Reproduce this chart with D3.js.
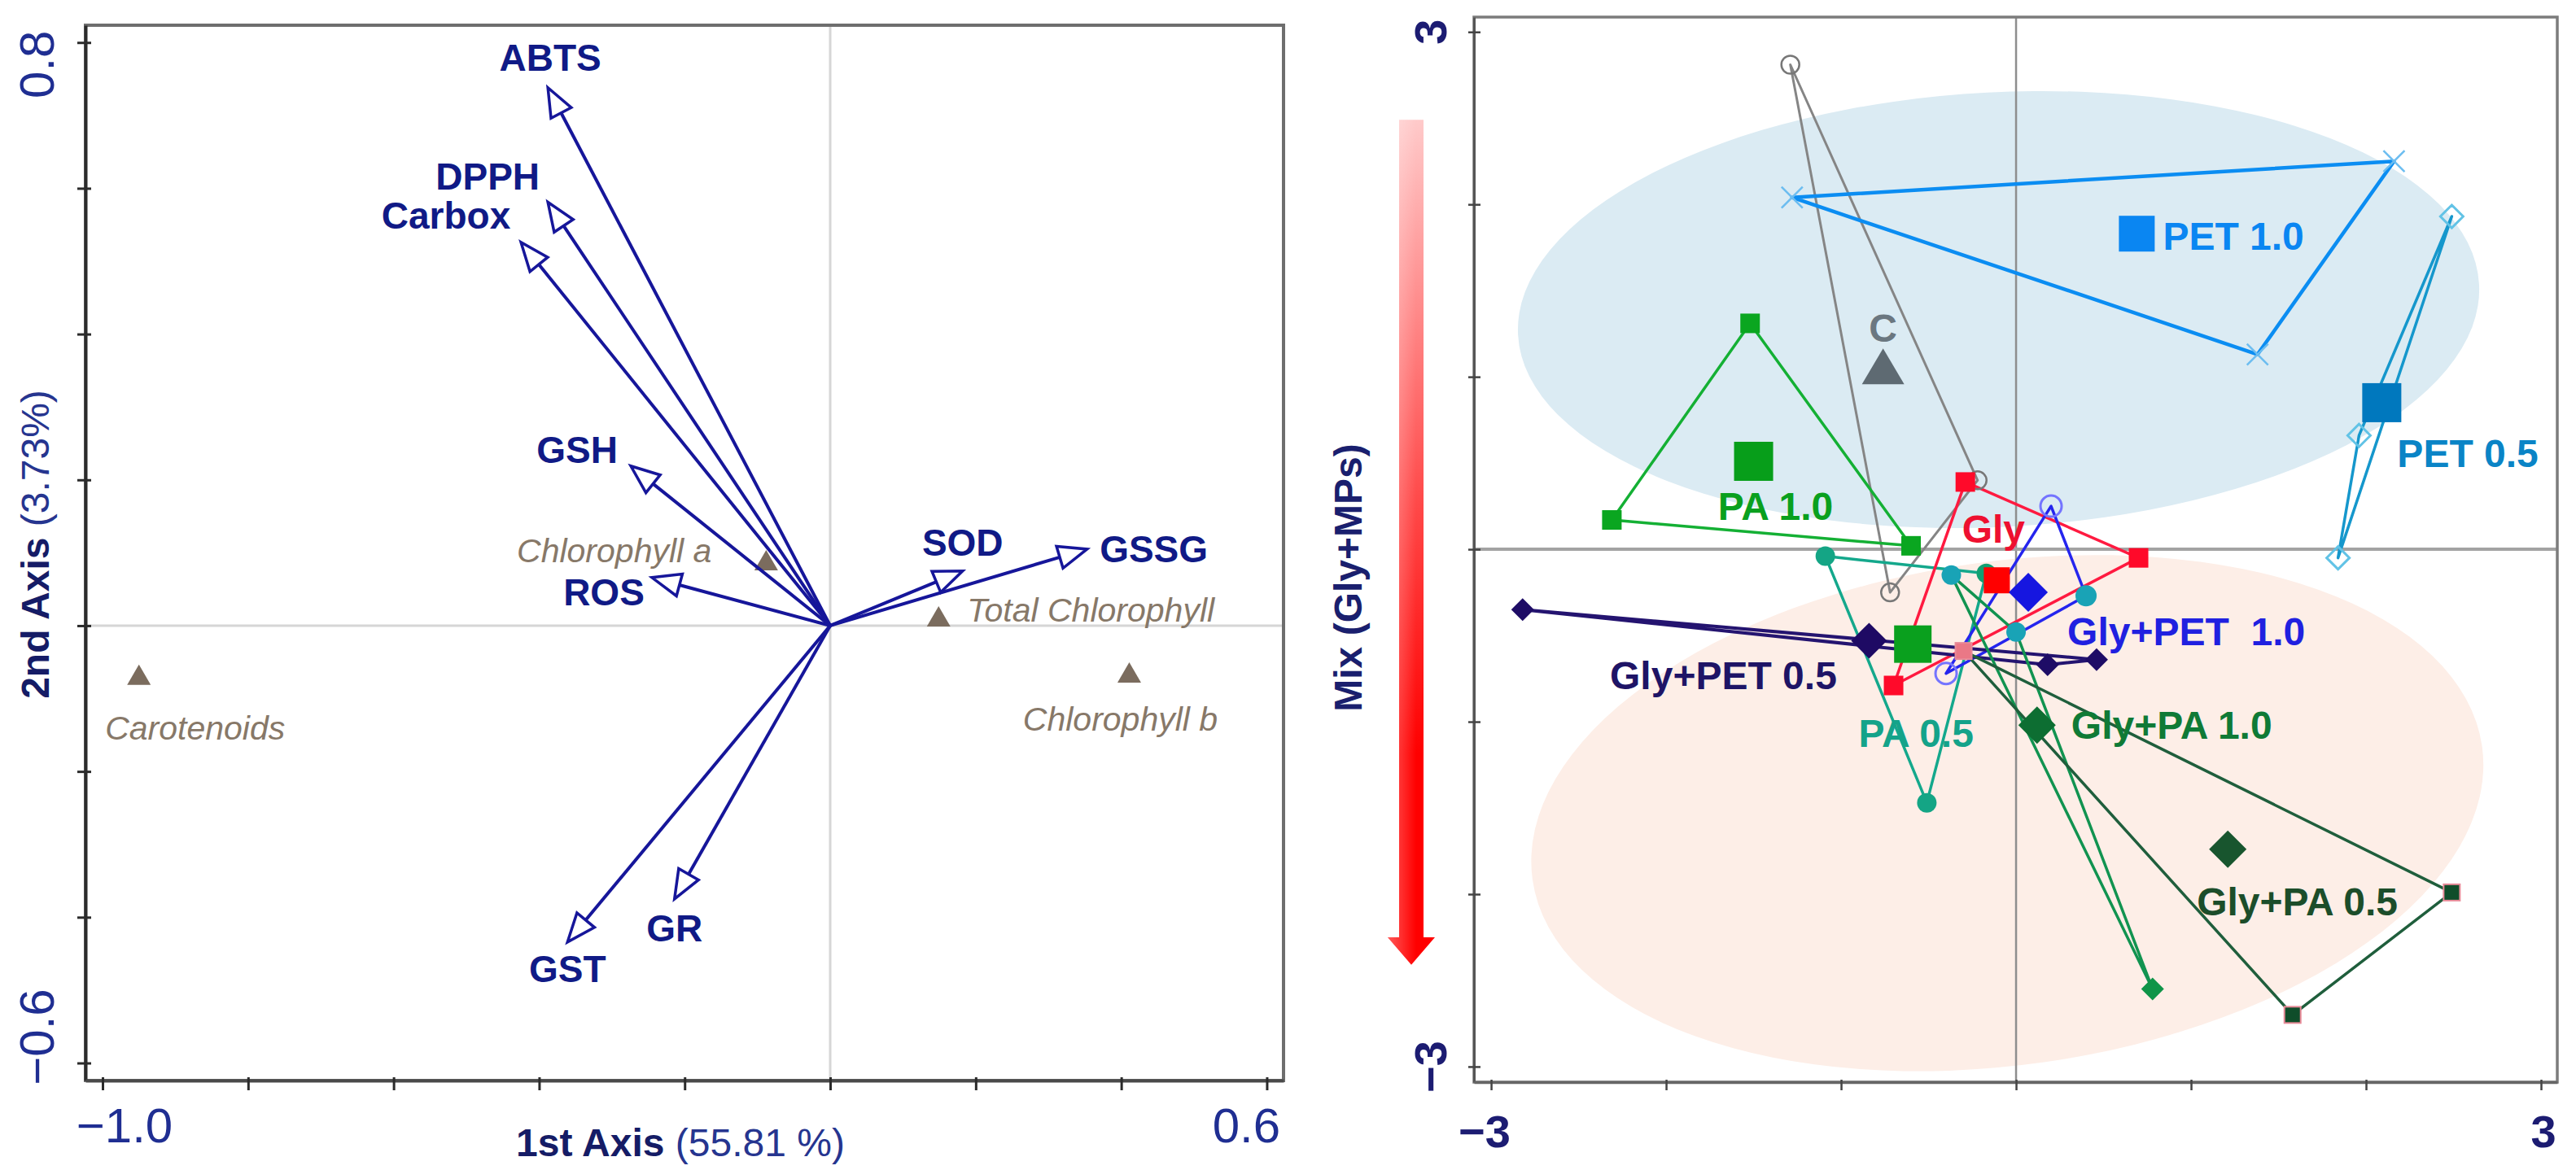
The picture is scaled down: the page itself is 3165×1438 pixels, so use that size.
<!DOCTYPE html>
<html lang="en">
<head>
<meta charset="UTF-8">
<title>PCA biplot and treatment scores</title>
<script src="https://cdn.jsdelivr.net/npm/d3@7"></script>
<style>
  body { margin: 0; background: #fff; }
  svg { display: block; }
  text { font-family: "Liberation Sans", Arial, sans-serif; }
</style>
</head>
<body>
<svg></svg>
<script>
// ---------- left panel: variable loadings ----------
const varNames = ["ABTS", "DPPH", "Carbox", "GSH", "ROS", "SOD", "GSSG", "GST", "GR"];
const varX = [-0.388, -0.388, -0.425, -0.274, -0.245, 0.182, 0.353, -0.361, -0.214];
const varY = [0.738, 0.581, 0.526, 0.219, 0.066, 0.075, 0.105, -0.434, -0.375];

const pigNames = ["Carotenoids", "Chlorophyll a", "Total Chlorophyll", "Chlorophyll b"];
const pigX = [-0.950, -0.088, 0.149, 0.411];
const pigY = [-0.070, 0.087, 0.010, -0.067];

const leftXTicks = [-1.0, -0.8, -0.6, -0.4, -0.2, 0, 0.2, 0.4, 0.6];
const leftYTicks = [-0.6, -0.4, -0.2, 0, 0.2, 0.4, 0.6, 0.8];
const leftXLabels = ["\u22121.0", "0.6"];
const leftYLabels = ["0.8", "\u22120.6"];

// ---------- right panel: treatment scores ----------
const groups = ["C", "PET 1.0", "PET 0.5", "PA 1.0", "PA 0.5", "Gly",
                "Gly+PET  1.0", "Gly+PET 0.5", "Gly+PA 1.0", "Gly+PA 0.5"];
const pointsX = [
  [-1.29, -0.22, -0.72],
  [-1.28, 2.16, 1.38],
  [2.49, 1.96, 1.84],
  [-1.52, -2.31, -0.60],
  [-1.09, -0.51, -0.17],
  [-0.29, 0.70, -0.70],
  [0.20, -0.40, 0.40],
  [-2.82, 0.18, 0.46],
  [-0.37, 0.00, 0.78],
  [-0.30, 2.49, 1.58]
];
const pointsY = [
  [2.81, 0.40, -0.25],
  [2.04, 2.25, 1.13],
  [1.93, 0.66, -0.05],
  [1.31, 0.17, 0.02],
  [-0.04, -1.47, -0.14],
  [0.39, -0.05, -0.79],
  [0.25, -0.72, -0.27],
  [-0.35, -0.67, -0.64],
  [-0.15, -0.48, -2.55],
  [-0.59, -1.99, -2.70]
];
const centX = [-0.76, 0.69, 2.09, -1.50, -0.59, -0.11, 0.07, -0.84, 0.12, 1.21];
const centY = [1.04, 1.83, 0.85, 0.51, -0.55, -0.18, -0.25, -0.53, -1.02, -1.74];

const rightTicks = [-3, -2, -1, 0, 1, 2, 3];
const rightLabels = ["\u22123", "3"];

// group ellipses (centre, semi-axes in data units, tilt in degrees)
const ellCX = [-0.10, -0.05];
const ellCY = [1.39, -1.53];
const ellRX = [2.75, 2.74];
const ellRY = [1.26, 1.46];
const ellTilt = [-3, -8];

// ---------- styles / layout ----------
const W = 3165, H = 1438;
const navy = "#101a86";

const svg = d3.select("svg").attr("width", W).attr("height", H);

const defs = svg.append("defs");
const grad = defs.append("linearGradient").attr("id", "redArrow")
  .attr("x1", 0).attr("y1", 0).attr("x2", 0).attr("y2", 1);
grad.append("stop").attr("offset", "0%").attr("stop-color", "#ffcaca");
grad.append("stop").attr("offset", "45%").attr("stop-color", "#ff4a4a");
grad.append("stop").attr("offset", "75%").attr("stop-color", "#ff0000");
grad.append("stop").attr("offset", "100%").attr("stop-color", "#ff0000");
const shade = defs.append("linearGradient").attr("id", "redShade")
  .attr("x1", 0).attr("y1", 0).attr("x2", 1).attr("y2", 0);
shade.append("stop").attr("offset", "0%").attr("stop-color", "#fff").attr("stop-opacity", 0.35);
shade.append("stop").attr("offset", "60%").attr("stop-color", "#fff").attr("stop-opacity", 0);

// ===== LEFT PANEL =====
const lx = d3.scaleLinear().domain([-1.0235, 0.623]).range([105, 1577]);
const ly = d3.scaleLinear().domain([-0.624, 0.8237]).range([1328, 31]);
const L = svg.append("g");

// zero lines
L.append("line").attr("x1", lx(0)).attr("x2", lx(0)).attr("y1", ly.range()[1]).attr("y2", ly.range()[0])
  .attr("stroke", "#d6d6d6").attr("stroke-width", 3);
L.append("line").attr("x1", lx.range()[0]).attr("x2", lx.range()[1]).attr("y1", ly(0)).attr("y2", ly(0))
  .attr("stroke", "#d6d6d6").attr("stroke-width", 3);

// frame
L.append("rect").attr("x", lx.range()[0]).attr("y", ly.range()[1])
  .attr("width", lx.range()[1] - lx.range()[0]).attr("height", ly.range()[0] - ly.range()[1])
  .attr("fill", "none").attr("stroke", "#6e6e6e").attr("stroke-width", 4);

// axes
const lAxY = L.append("g").attr("transform", `translate(${lx.range()[0]},0)`)
  .call(d3.axisLeft(ly).tickValues(leftYTicks).tickFormat("").tickSizeOuter(0));
lAxY.select(".domain").attr("stroke", "#2b2b2b").attr("stroke-width", 4);
lAxY.selectAll(".tick line").attr("x1", 7).attr("x2", -10).attr("stroke", "#2b2b2b").attr("stroke-width", 3);

const lAxX = L.append("g").attr("transform", `translate(0,${ly.range()[0]})`)
  .call(d3.axisBottom(lx).tickValues(leftXTicks).tickFormat("").tickSizeOuter(0));
lAxX.select(".domain").attr("stroke", "#4a4a4a").attr("stroke-width", 4);
lAxX.selectAll(".tick line").attr("y1", -4).attr("y2", 12).attr("stroke", "#2b2b2b").attr("stroke-width", 3);

// tick labels (only ends are labelled)
L.append("text").attr("x", lx(-1.0) + 27).attr("y", ly.range()[0] + 55).attr("dy", "0.35em")
  .attr("text-anchor", "middle").attr("font-size", 60).attr("fill", "#1f2e92").text(leftXLabels[0]);
L.append("text").attr("x", lx(0.6) - 25).attr("y", ly.range()[0] + 55).attr("dy", "0.35em")
  .attr("text-anchor", "middle").attr("font-size", 60).attr("fill", "#1f2e92").text(leftXLabels[1]);
L.append("text").attr("transform", `translate(45,${ly(0.8) + 27}) rotate(-90)`).attr("dy", "0.35em")
  .attr("text-anchor", "middle").attr("font-size", 60).attr("fill", "#1f2e92").text(leftYLabels[0]);
L.append("text").attr("transform", `translate(45,${ly(-0.6) - 32}) rotate(-90)`).attr("dy", "0.35em")
  .attr("text-anchor", "middle").attr("font-size", 60).attr("fill", "#1f2e92").text(leftYLabels[1]);

// axis titles
const tY = L.append("text").attr("transform", "translate(43,669) rotate(-90)").attr("dy", "0.35em")
  .attr("text-anchor", "middle").attr("font-size", 48);
tY.append("tspan").attr("font-weight", "bold").attr("fill", "#151c66").text("2nd Axis");
tY.append("tspan").attr("fill", "#26358f").text(" (3.73%)");
const tX = L.append("text").attr("x", 836).attr("y", 1404).attr("dy", "0.35em")
  .attr("text-anchor", "middle").attr("font-size", 48);
tX.append("tspan").attr("font-weight", "bold").attr("fill", "#151c66").text("1st Axis");
tX.append("tspan").attr("fill", "#26358f").text(" (55.81 %)");

// pigments (supplementary, triangles)
const pigLabel = {
  "Carotenoids": [69, 63, "middle"],
  "Chlorophyll a": [-67, -14, "end"],
  "Total Chlorophyll": [35, -10, "start"],
  "Chlorophyll b": [-11, 55, "middle"]
};
pigNames.forEach((name, i) => {
  const cx = lx(pigX[i]), cy = ly(pigY[i]);
  const w = 29, h = 25;
  L.append("path").attr("d", `M${cx},${cy - h * 0.6}L${cx + w / 2},${cy + h * 0.4}L${cx - w / 2},${cy + h * 0.4}Z`)
    .attr("fill", "#7b6c5e");
  const o = pigLabel[name];
  L.append("text").attr("x", cx + o[0]).attr("y", cy + o[1]).attr("dy", "0.35em")
    .attr("text-anchor", o[2]).attr("font-family", "'Open Sans', sans-serif").attr("font-style", "italic")
    .attr("font-size", 41).attr("fill", "#877868").text(name);
});

// loading arrows with open heads
const varLabel = {
  ABTS: [3, -37], DPPH: [-74, -32], Carbox: [-92, -33], GSH: [-66, -20], ROS: [-59, 18],
  SOD: [0, -35], GSSG: [82, 0], GST: [0, 33], GR: [0, 36]
};
const ox = lx(0), oy = ly(0);
varNames.forEach((name, i) => {
  const tx = lx(varX[i]), ty = ly(varY[i]);
  const len = Math.hypot(tx - ox, ty - oy);
  const ux = (tx - ox) / len, uy = (ty - oy) / len;
  const hl = 35, hw = 14;
  const bx = tx - ux * hl, by = ty - uy * hl;
  L.append("line").attr("x1", ox).attr("y1", oy).attr("x2", bx).attr("y2", by)
    .attr("stroke", "#16169a").attr("stroke-width", 4);
  L.append("path")
    .attr("d", `M${tx},${ty}L${bx - uy * hw},${by + ux * hw}L${bx + uy * hw},${by - ux * hw}Z`)
    .attr("fill", "#fff").attr("stroke", "#16169a").attr("stroke-width", 3.5).attr("stroke-linejoin", "miter");
  const o = varLabel[name];
  L.append("text").attr("x", tx + o[0]).attr("y", ty + o[1]).attr("dy", "0.35em")
    .attr("text-anchor", "middle").attr("font-weight", "bold").attr("font-size", 46)
    .attr("fill", navy).text(name);
});

// ===== RIGHT PANEL =====
const rx = d3.scaleLinear().domain([-3.098, 3.093]).range([1811, 3142]);
const ry = d3.scaleLinear().domain([-3.09, 3.086]).range([1330, 21]);
const R = svg.append("g");

// ellipses
const ellFill = ["#dbebf3", "#fdeee7"];
ellCX.forEach((c, i) => {
  const cx = rx(c), cy = ry(ellCY[i]);
  R.append("ellipse").attr("cx", 0).attr("cy", 0)
    .attr("rx", rx(c + ellRX[i]) - cx).attr("ry", cy - ry(ellCY[i] + ellRY[i]))
    .attr("transform", `translate(${cx},${cy}) rotate(${ellTilt[i]})`)
    .attr("fill", ellFill[i]);
});

// zero lines
R.append("line").attr("x1", rx(0)).attr("x2", rx(0)).attr("y1", ry.range()[1]).attr("y2", ry.range()[0])
  .attr("stroke", "#8e8e8e").attr("stroke-width", 2.5);
R.append("line").attr("x1", rx.range()[0]).attr("x2", rx.range()[1]).attr("y1", ry(0)).attr("y2", ry(0))
  .attr("stroke", "#a3a3a3").attr("stroke-width", 4);

// frame
R.append("rect").attr("x", rx.range()[0]).attr("y", ry.range()[1])
  .attr("width", rx.range()[1] - rx.range()[0]).attr("height", ry.range()[0] - ry.range()[1])
  .attr("fill", "none").attr("stroke", "#7c7c7c").attr("stroke-width", 3.5);

const rAxY = R.append("g").attr("transform", `translate(${rx.range()[0]},0)`)
  .call(d3.axisLeft(ry).tickValues(rightTicks).tickFormat("").tickSizeOuter(0));
rAxY.select(".domain").attr("stroke", "#555").attr("stroke-width", 3);
rAxY.selectAll(".tick line").attr("x1", 8).attr("x2", -7).attr("stroke", "#444").attr("stroke-width", 2.5);
const rAxX = R.append("g").attr("transform", `translate(0,${ry.range()[0]})`)
  .call(d3.axisBottom(rx).tickValues(rightTicks).tickFormat("").tickSizeOuter(0));
rAxX.select(".domain").attr("stroke", "#666").attr("stroke-width", 3.5);
rAxX.selectAll(".tick line").attr("y1", -3).attr("y2", 10).attr("stroke", "#444").attr("stroke-width", 2.5);

// tick labels
const rtc = "#1c1c72";
R.append("text").attr("x", rx(-3) - 8).attr("y", 1390).attr("dy", "0.35em").attr("text-anchor", "middle")
  .attr("font-weight", "bold").attr("font-size", 56).attr("fill", rtc).text(rightLabels[0]);
R.append("text").attr("x", rx(3) + 3).attr("y", 1390).attr("dy", "0.35em").attr("text-anchor", "middle")
  .attr("font-weight", "bold").attr("font-size", 56).attr("fill", rtc).text(rightLabels[1]);
R.append("text").attr("transform", `translate(1757,${ry(3)}) rotate(-90)`).attr("dy", "0.35em")
  .attr("text-anchor", "middle").attr("font-weight", "bold").attr("font-size", 56).attr("fill", rtc).text(rightLabels[1]);
R.append("text").attr("transform", `translate(1757,${ry(-3)}) rotate(-90)`).attr("dy", "0.35em")
  .attr("text-anchor", "middle").attr("font-weight", "bold").attr("font-size", 56).attr("fill", rtc).text(rightLabels[0]);

// axis title + gradient arrow
R.append("text").attr("transform", "translate(1656,710) rotate(-90)").attr("dy", "0.35em")
  .attr("text-anchor", "middle").attr("font-weight", "bold").attr("font-size", 48).attr("fill", "#1a1f6e")
  .text("Mix (Gly+MPs)");
{
  const ax = rx.range()[0] - 77, top = ry(2.49), hs = ry(-2.25), tip = ry(-2.41);
  const d = `M${ax - 15},${top}H${ax + 15}V${hs}H${ax + 29}L${ax},${tip}L${ax - 29},${hs}H${ax - 15}Z`;
  R.append("path").attr("d", d).attr("fill", "url(#redArrow)");
  R.append("path").attr("d", d).attr("fill", "url(#redShade)");
}

// group styles (array values apply per point)
const gs = {
  "C":            { line: "#858585", lw: 3,   mk: "circle",  ms: 22, mf: "none",    mst: "#777",    msw: 2.5, ck: "triangle", cs: 52, cf: "#5e6a72", tc: "#6b7780", lab: [0, -51, "middle"] },
  "PET 1.0":      { line: "#0b8df2", lw: 4.5, mk: "times",   ms: 26, mf: "none",    mst: "#6cbdf0", msw: 2.5, ck: "square",   cs: 44, cf: "#0a86f2", tc: "#0a86f2", lab: [32, 3, "start"] },
  "PET 0.5":      { line: "#1597cc", lw: 3.5, mk: "diamond", ms: 28, mf: "none",    mst: "#62c3e6", msw: 3,   ck: "square",   cs: 48, cf: "#0078be", tc: "#0a84c6", lab: [19, 62, "start"] },
  "PA 1.0":       { line: "#14b034", lw: 3.5, mk: "square",  ms: 24, mf: "#0aa620", mst: "none",    msw: 0,   ck: "square",   cs: 48, cf: "#079e1a", tc: "#0aa01e", lab: [27, 55, "middle"] },
  "PA 0.5":       { line: "#14a88c", lw: 3.5, mk: "circle",  ms: 24, mf: ["#14a585", "#14a585", "#12a072"], mst: "none", msw: 0, ck: "square", cs: 46, cf: "#0aa01e", tc: "#14a38a", lab: [4, 110, "middle"] },
  "Gly":          { line: "#ff1a40", lw: 3.5, mk: "square",  ms: 24, mf: "#ff0a2a", mst: "none",    msw: 0,   ck: "square",   cs: 32, cf: "#ff0000", tc: "#ee1030", lab: [-4, -63, "middle"] },
  "Gly+PET  1.0": { line: "#2525ee", lw: 3.5, mk: "circle",  ms: 26, mf: ["none", "none", "#19a3b6"], mst: ["#7474ff", "#7474ff", "none"], msw: 3, ck: "diamond", cs: 48, cf: "#1616e0", tc: "#2020e0", lab: [48, 48, "start"] },
  "Gly+PET 0.5":  { line: "#241470", lw: 4,   mk: "diamond", ms: 28, mf: "#1e0c66", mst: "none",    msw: 0,   ck: "diamond",  cs: 44, cf: "#1e0a64", tc: "#1e1466", lab: [-179, 43, "middle"] },
  "Gly+PA 1.0":   { line: "#119350", lw: 3.5, mk: ["circle", "circle", "diamond"], ms: [24, 24, 28], mf: ["#19a3b6", "#19a3b6", "#0f9448"], mst: "none", msw: 0, ck: "diamond", cs: 46, cf: "#0d6e32", tc: "#0f7a36", lab: [42, 0, "start"] },
  "Gly+PA 0.5":   { line: "#1f5e3c", lw: 3.5, mk: "square",  ms: 20, mf: ["#ea7886", "#0f4d2a", "#0f4d2a"], mst: "#e88a98", msw: 2, ck: "diamond", cs: 46, cf: "#18552e", tc: "#1c4d2a", lab: [-38, 64, "start"] }
};
const pick = (v, j) => Array.isArray(v) ? v[j] : v;

function marker(g, type, cx, cy, s, fill, stroke, sw) {
  let el;
  if (type === "circle") {
    el = g.append("circle").attr("cx", cx).attr("cy", cy).attr("r", s / 2);
  } else if (type === "square") {
    el = g.append("rect").attr("x", cx - s / 2).attr("y", cy - s / 2).attr("width", s).attr("height", s);
  } else if (type === "diamond") {
    el = g.append("path").attr("d", `M${cx},${cy - s / 2}L${cx + s / 2},${cy}L${cx},${cy + s / 2}L${cx - s / 2},${cy}Z`);
  } else if (type === "triangle") {
    const h = s * 0.85;
    el = g.append("path").attr("d", `M${cx},${cy - h * 0.6}L${cx + s / 2},${cy + h * 0.4}L${cx - s / 2},${cy + h * 0.4}Z`);
  } else {
    const d = s / 2;
    el = g.append("path").attr("d", `M${cx - d},${cy - d}L${cx + d},${cy + d}M${cx + d},${cy - d}L${cx - d},${cy + d}`);
  }
  el.attr("fill", fill).attr("stroke", stroke).attr("stroke-width", sw);
}

const polyLine = d3.line().x(d => rx(d[0])).y(d => ry(d[1])).curve(d3.curveLinearClosed);

// polygons
groups.forEach((g, i) => {
  const pts = pointsX[i].map((x, j) => [x, pointsY[i][j]]);
  R.append("path").attr("d", polyLine(pts)).attr("fill", "none")
    .attr("stroke", gs[g].line).attr("stroke-width", gs[g].lw).attr("stroke-linejoin", "round");
});
// points
groups.forEach((g, i) => {
  const s = gs[g];
  pointsX[i].forEach((x, j) => marker(R, pick(s.mk, j), rx(x), ry(pointsY[i][j]),
    pick(s.ms, j), pick(s.mf, j), pick(s.mst, j), pick(s.msw, j)));
});
// centroids
groups.forEach((g, i) => {
  const s = gs[g];
  marker(R, s.ck, rx(centX[i]), ry(centY[i]), s.cs, s.cf, "none", 0);
});
// labels
groups.forEach((g, i) => {
  const s = gs[g];
  R.append("text").attr("x", rx(centX[i]) + s.lab[0]).attr("y", ry(centY[i]) + s.lab[1]).attr("dy", "0.35em")
    .attr("text-anchor", s.lab[2]).attr("font-weight", "bold").attr("font-size", 48)
    .style("white-space", "pre").attr("fill", s.tc).text(g);
});
</script>
</body>
</html>
